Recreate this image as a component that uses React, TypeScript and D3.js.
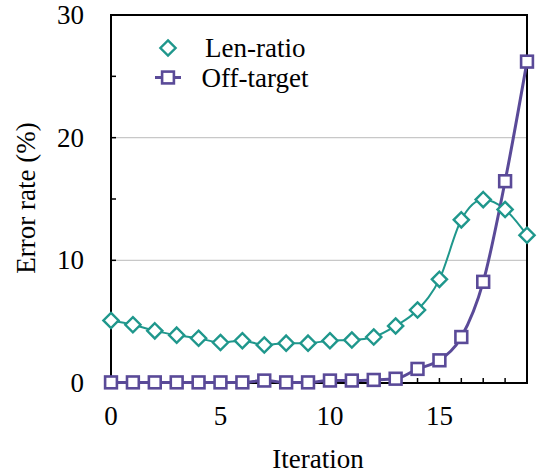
import React from "react";
import * as d3 from "d3";

const iterations = d3.range(0, 20);
const lenRatio = [5.1, 4.75, 4.25, 3.9, 3.65, 3.3, 3.45, 3.1, 3.25, 3.25, 3.45, 3.5, 3.75, 4.65, 5.95, 8.45, 13.3, 14.95, 14.15, 12.05];
const offTarget = [0.05, 0.05, 0.05, 0.05, 0.05, 0.05, 0.05, 0.2, 0.05, 0.05, 0.2, 0.2, 0.25, 0.35, 1.15, 1.85, 3.75, 8.25, 16.45, 26.2];
const yTicks = [0, 10, 20, 30];
const yMinorTicks = [5, 15, 25];
const xTicks = [0, 5, 10, 15];
const seriesNames = ["Len-ratio", "Off-target"];

const W = 537, H = 473;
const left = 111, right = 527, top = 15, bottom = 383;
const TEAL = "#1f978c";
const PURPLE = "#5a4a98";
const FONT = "Liberation Serif, serif";

export default function App() {
  const x = d3.scaleLinear().domain([0, 19]).range([left, right]);
  const y = d3.scaleLinear().domain([0, 30]).range([bottom, top]);
  const lineCurve = d3.line<number>().x((_, i) => x(iterations[i])).y((d) => y(d)).curve(d3.curveMonotoneX);
  const dm = 7.6;
  const diamond = (cx: number, cy: number) => `M${cx},${cy - dm}L${cx + dm},${cy}L${cx},${cy + dm}L${cx - dm},${cy}Z`;
  const sq = 5.9;
  const ts = { fontFamily: FONT, fontSize: 27 } as React.CSSProperties;
  return (
    <svg width={W} height={H} style={{ position: "absolute", left: 0, top: 0, background: "#fff" }}>
      {yTicks.filter((t) => t > 0 && t < 30).map((t) => (
        <line key={"g" + t} x1={left} x2={right} y1={y(t)} y2={y(t)} stroke="#c8c8c8" strokeWidth={1.2} />
      ))}
      {[...yTicks, ...yMinorTicks].map((t) => (
        <line key={"yt" + t} x1={left} x2={left + 5} y1={y(t)} y2={y(t)} stroke="#000" strokeWidth={1.5} />
      ))}
      {iterations.map((t) => (
        <line key={"xt" + t} x1={x(t)} x2={x(t)} y1={bottom} y2={bottom - 5} stroke="#000" strokeWidth={1.5} />
      ))}
      <rect x={left} y={top} width={right - left} height={bottom - top} fill="none" stroke="#000" strokeWidth={2} />
      {yTicks.map((t) => (
        <text key={"yl" + t} x={84} y={y(t) + 9} textAnchor="end" style={ts} fill="#000">{t}</text>
      ))}
      {xTicks.map((t) => (
        <text key={"xl" + t} x={x(t)} y={425} textAnchor="middle" style={ts} fill="#000">{t}</text>
      ))}
      <text x={318} y={468} textAnchor="middle" style={ts} fill="#000">Iteration</text>
      <text transform={`translate(35,198) rotate(-90)`} textAnchor="middle" style={ts} fill="#000">Error rate (%)</text>

      <path d={lineCurve(lenRatio) || ""} fill="none" stroke={TEAL} strokeWidth={2} />
      <path d={lineCurve(offTarget) || ""} fill="none" stroke={PURPLE} strokeWidth={3} />
      {lenRatio.map((v, i) => (
        <path key={"d" + i} d={diamond(x(iterations[i]), y(v))} fill="#fff" stroke={TEAL} strokeWidth={2.4} />
      ))}
      {offTarget.map((v, i) => (
        <rect key={"s" + i} x={x(iterations[i]) - sq} y={y(v) - sq} width={sq * 2} height={sq * 2} fill="#fff" stroke={PURPLE} strokeWidth={2.6} />
      ))}

      <path d={diamond(168, 48)} fill="#fff" stroke={TEAL} strokeWidth={2.4} />
      <text x={205} y={56.5} style={ts} fill="#000">{seriesNames[0]}</text>
      <line x1={155} x2={181} y1={77.5} y2={77.5} stroke={PURPLE} strokeWidth={3} />
      <rect x={168 - sq} y={77.5 - sq} width={sq * 2} height={sq * 2} fill="#fff" stroke={PURPLE} strokeWidth={2.6} />
      <text x={201.5} y={86.5} style={ts} fill="#000">{seriesNames[1]}</text>
    </svg>
  );
}
